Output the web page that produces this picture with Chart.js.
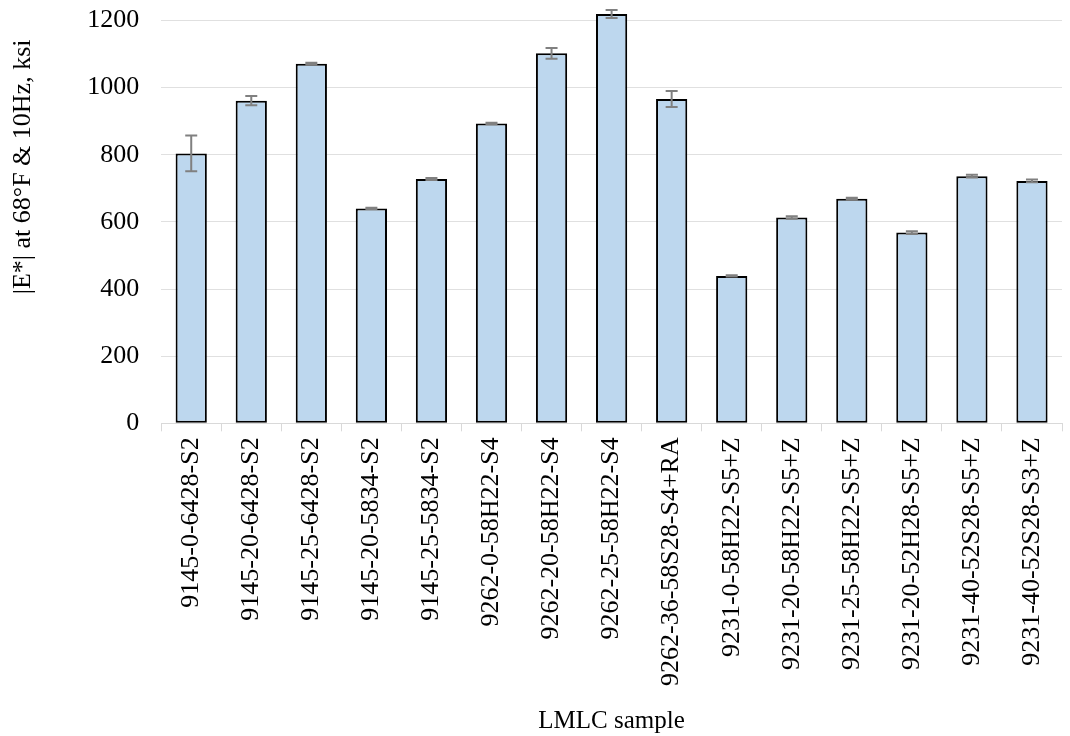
<!DOCTYPE html>
<html lang="en">
<head>
  <meta charset="UTF-8" />
  <title>LMLC |E*|</title>
  <script src="https://cdn.jsdelivr.net/npm/chart.js"></script>
  <style>
    body { margin: 0; background: #ffffff; }
    .chart-box { width: 1070px; height: 736px; }
  </style>
</head>
<body>
  <div class="chart-box"><canvas id="modChart"></canvas></div>
  <script>
    // data
    const samples = [
      '9145-0-6428-S2', '9145-20-6428-S2', '9145-25-6428-S2', '9145-20-5834-S2',
      '9145-25-5834-S2', '9262-0-58H22-S4', '9262-20-58H22-S4', '9262-25-58H22-S4',
      '9262-36-58S28-S4+RA', '9231-0-58H22-S5+Z', '9231-20-58H22-S5+Z',
      '9231-25-58H22-S5+Z', '9231-20-52H28-S5+Z', '9231-40-52S28-S5+Z', '9231-40-52S28-S3+Z'
    ];
    const modulus = [804, 961, 1071, 640, 728, 893, 1102, 1219, 966, 439, 613, 669, 568, 736, 722];
    const modErr  = [53, 14, 3, 2, 3, 2, 16, 12, 24, 2, 4, 3, 4, 4, 4];
    const yTicks  = [0, 200, 400, 600, 800, 1000, 1200];

    const serif = 'Liberation Serif, Times New Roman, serif';

    // draw the error bars on top of the bars
    const errorBars = {
      id: 'errorBars',
      afterDatasetsDraw(chart) {
        const ctx = chart.ctx;
        const y = chart.scales.y;
        const meta = chart.getDatasetMeta(0);
        ctx.save();
        ctx.strokeStyle = '#808080';
        ctx.lineWidth = 2;
        meta.data.forEach((bar, i) => {
          const v = modulus[i], e = modErr[i];
          const top = y.getPixelForValue(v + e);
          const bot = y.getPixelForValue(v - e);
          ctx.beginPath();
          ctx.moveTo(bar.x, top); ctx.lineTo(bar.x, bot);
          ctx.moveTo(bar.x - 6, top); ctx.lineTo(bar.x + 6, top);
          ctx.moveTo(bar.x - 6, bot); ctx.lineTo(bar.x + 6, bot);
          ctx.stroke();
        });
        ctx.restore();
      }
    };

    new Chart(document.getElementById('modChart'), {
      type: 'bar',
      data: {
        labels: samples,
        datasets: [{
          data: modulus,
          backgroundColor: '#bdd7ee',
          borderColor: '#000000',
          borderWidth: 2,
          borderSkipped: false,
          categoryPercentage: 1,
          barPercentage: 0.52
        }]
      },
      options: {
        responsive: true,
        maintainAspectRatio: false,
        animation: false,
        layout: { padding: { left: 8, right: 8, top: 7, bottom: 0 } },
        plugins: { legend: { display: false }, tooltip: { enabled: false } },
        scales: {
          x: {
            grid: { drawOnChartArea: false, color: '#d9d9d9', tickLength: 8, lineWidth: 1 },
            border: { color: '#d9d9d9' },
            ticks: {
              color: '#000', minRotation: 90, maxRotation: 90, autoSkip: false,
              font: { family: serif, size: 26 }, padding: 6
            },
            title: {
              display: true, text: 'LMLC sample', color: '#000',
              font: { family: serif, size: 25 }, padding: { top: 14, bottom: 0 }
            }
          },
          y: {
            min: 0, max: 1240,
            afterBuildTicks(axis) { axis.ticks = yTicks.map(v => ({ value: v })); },
            afterFit(axis) { axis.paddingTop = 0; axis.paddingBottom = 0; },
            grid: { color: '#e0e0e0', drawTicks: false },
            border: { display: false },
            ticks: {
              color: '#000', font: { family: serif, size: 26 }, padding: 22,
              callback: v => String(v)
            },
            title: {
              display: true, align: 'end',
              text: '|E*| at 68°F & 10Hz, ksi\u00a0\u00a0\u00a0\u00a0\u00a0', color: '#000',
              font: { family: serif, size: 26 }, padding: { top: 0, bottom: 26 }
            }
          }
        }
      },
      plugins: [errorBars]
    });
  </script>
</body>
</html>
